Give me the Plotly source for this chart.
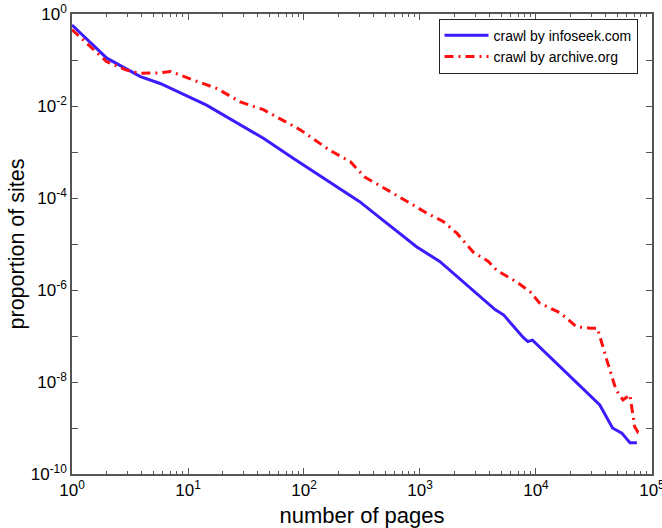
import plotly.graph_objects as go

# infoseek crawl (number of pages, proportion of sites)
infoseek_logx = [0, 0.30, 0.59, 0.76, 1.16, 1.45, 1.65, 1.91, 2.17, 2.48, 2.68, 2.97, 3.17,
                 3.34, 3.60, 3.65, 3.72, 3.82, 3.89, 3.93, 3.97, 4.55, 4.66, 4.74, 4.81, 4.87]
infoseek_logy = [-0.24, -0.96, -1.36, -1.51, -1.98, -2.41, -2.70, -3.14, -3.57, -4.08, -4.48, -5.06, -5.38,
                 -5.75, -6.33, -6.43, -6.54, -6.83, -7.03, -7.12, -7.09, -8.50, -9.00, -9.11, -9.32, -9.32]

# archive.org crawl
archive_logx = [0, 0.30, 0.47, 0.59, 0.76, 0.85, 1.04, 1.25, 1.45, 1.65, 1.97, 2.22, 2.40, 2.52,
                2.77, 3.06, 3.20, 3.32, 3.46, 3.59, 3.66, 3.83, 3.95, 4.03, 4.21, 4.35, 4.47,
                4.53, 4.61, 4.69, 4.75, 4.81, 4.85, 4.88, 4.92]
archive_logy = [-0.34, -1.04, -1.22, -1.29, -1.28, -1.25, -1.43, -1.62, -1.91, -2.08, -2.52, -2.96, -3.21, -3.54,
                -3.90, -4.33, -4.51, -4.77, -5.18, -5.38, -5.57, -5.82, -6.04, -6.28, -6.50, -6.80, -6.83,
                -6.83, -7.52, -8.17, -8.39, -8.28, -8.97, -9.10, -9.10]

x_tick_exps = [0, 1, 2, 3, 4, 5]
y_tick_exps = [0, -1, -2, -3, -4, -5, -6, -7, -8, -9, -10]

x1 = [10 ** v for v in infoseek_logx]
y1 = [10 ** v for v in infoseek_logy]
x2 = [10 ** v for v in archive_logx]
y2 = [10 ** v for v in archive_logy]

fig = go.Figure()
fig.add_trace(go.Scatter(x=x1, y=y1, mode="lines", name="crawl by infoseek.com",
                         line=dict(color="#3b1cff", width=3)))
fig.add_trace(go.Scatter(x=x2, y=y2, mode="lines", name="crawl by archive.org",
                         line=dict(color="#ff1010", width=3, dash="9px,5px,2px,5px")))

font = "Liberation Sans, Arial, Helvetica, sans-serif"

xmin = []
for e in x_tick_exps[:-1]:
    for m in range(2, 10):
        xmin.append(m * 10 ** e)

fig.update_layout(
    width=662, height=528,
    margin=dict(l=72, r=10, t=14, b=54, autoexpand=False),
    paper_bgcolor="white", plot_bgcolor="white",
    font=dict(family=font, color="black", size=17),
    showlegend=True,
    legend=dict(x=0.975, y=0.99, xanchor="right", yanchor="top",
                bordercolor="#222", borderwidth=1, bgcolor="white",
                font=dict(size=14, family=font), tracegroupgap=0,
                itemwidth=44),
    xaxis=dict(
        type="log", range=[0, 5.0002], automargin=False,
        tickvals=[10 ** e for e in x_tick_exps],
        ticktext=["10<sup>%d</sup>" % e for e in x_tick_exps],
        ticklabeloverflow="allow",
        ticks="inside", ticklen=6, tickwidth=1, tickcolor="#555",
        minor=dict(tickvals=xmin, ticks="inside", ticklen=3, tickcolor="#555"),
        showline=True, linecolor="#555", linewidth=1.5, mirror="ticks",
        showgrid=False, zeroline=False,
        title=dict(text="number of pages", font=dict(size=22), standoff=8),
        tickfont=dict(size=17),
    ),
    yaxis=dict(
        type="log", range=[-10, 0], automargin=False,
        tickvals=[10 ** e for e in y_tick_exps],
        ticktext=[("10<sup>%d</sup>" % e if e % 2 == 0 else "") for e in y_tick_exps],
        ticks="inside", ticklen=6, tickwidth=1, tickcolor="#555",
        showline=True, linecolor="#555", linewidth=1.5, mirror="ticks",
        showgrid=False, zeroline=False,
        title=dict(text="proportion of sites", font=dict(size=21.5), standoff=0),
        tickfont=dict(size=17),
    ),
)

fig.write_html("out.html")
